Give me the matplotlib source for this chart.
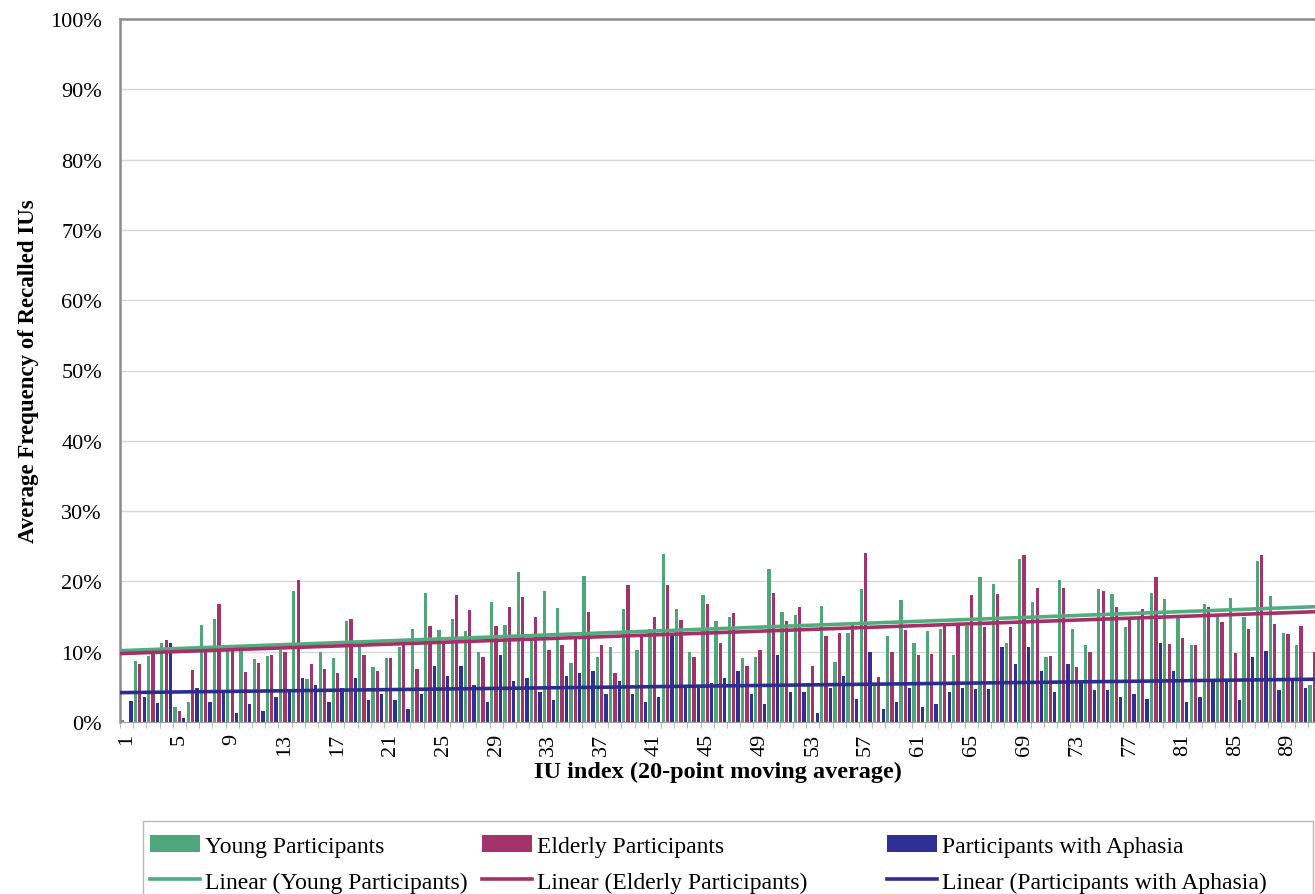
import numpy as np
import matplotlib
matplotlib.use('Agg')
import matplotlib.pyplot as plt
from matplotlib.patches import Rectangle, Patch
from matplotlib.lines import Line2D
from matplotlib.ticker import PercentFormatter

plt.rcParams['font.family'] = ['Liberation Serif', 'DejaVu Serif']

# IU index (20-point moving average), values in percent
iu_index = np.arange(1, 92)

young = [0.3, 8.7, 9.4, 11.2, 2.1, 2.8, 13.8, 14.6, 10.1, 10.1,
         9.0, 9.4, 10.2, 18.7, 6.1, 10.0, 9.1, 14.3, 10.6, 7.8,
         9.1, 10.6, 13.3, 18.3, 13.1, 14.6, 13.0, 9.9, 17.1, 13.8,
         21.3, 11.6, 18.6, 16.2, 8.4, 20.7, 9.3, 10.6, 16.1, 10.3,
         13.2, 23.9, 16.1, 9.9, 18.0, 14.4, 14.9, 9.1, 9.3, 21.8,
         15.6, 15.2, 5.6, 16.5, 8.6, 12.6, 18.9, 5.2, 12.2, 17.3,
         11.2, 13.0, 13.2, 9.5, 13.6, 20.6, 19.6, 11.2, 23.2, 17.1,
         9.3, 20.2, 13.3, 10.9, 18.9, 18.2, 13.5, 14.6, 18.4, 17.5,
         14.9, 10.9, 16.8, 14.9, 17.7, 14.9, 22.9, 17.9, 12.7, 10.9, 5.2]

elderly = [0.0, 8.2, 9.9, 11.6, 1.6, 7.4, 10.2, 16.8, 10.1, 7.1,
           8.4, 9.5, 9.9, 20.2, 8.2, 7.5, 7.0, 14.7, 9.5, 7.3,
           9.1, 11.1, 7.5, 13.6, 11.3, 18.0, 16.0, 9.3, 13.7, 16.4,
           17.8, 15.0, 10.3, 11.0, 11.8, 15.7, 10.9, 6.9, 19.5, 12.3,
           14.9, 19.5, 14.5, 9.3, 16.8, 11.2, 15.5, 8.0, 10.2, 18.4,
           14.3, 16.3, 8.0, 12.3, 12.7, 13.8, 24.1, 6.4, 9.9, 13.1,
           9.6, 9.7, 13.8, 13.8, 18.0, 13.5, 18.2, 13.5, 23.7, 19.1,
           9.4, 19.0, 7.8, 9.9, 18.6, 16.4, 14.6, 16.1, 20.6, 11.1,
           11.9, 10.9, 16.3, 14.2, 9.8, 13.2, 23.7, 13.9, 12.5, 13.6, 9.9]

aphasia = [3.0, 3.6, 2.7, 11.2, 0.6, 4.9, 2.9, 4.2, 1.3, 2.6,
           1.6, 3.6, 4.4, 6.2, 5.2, 2.9, 4.8, 6.2, 3.2, 4.0,
           3.2, 1.8, 4.0, 7.9, 6.6, 7.9, 5.3, 2.9, 9.6, 5.9,
           6.2, 4.2, 3.2, 6.6, 6.9, 7.2, 4.0, 5.9, 4.0, 2.9,
           3.6, 12.2, 4.9, 4.9, 5.5, 6.2, 7.3, 4.0, 2.6, 9.6,
           4.2, 4.2, 1.3, 4.9, 6.6, 3.3, 9.9, 1.9, 2.9, 4.9,
           2.2, 2.6, 4.3, 4.9, 4.7, 4.7, 10.6, 8.2, 10.6, 7.3,
           4.2, 8.2, 5.6, 4.6, 4.6, 3.6, 4.0, 3.3, 11.2, 7.2,
           2.9, 3.6, 5.9, 5.9, 3.2, 9.2, 10.1, 4.5, 5.9, 4.9, 4.5]

series_names = ['Young Participants', 'Elderly Participants', 'Participants with Aphasia']
bar_colors = ['#4ea67a', '#a3336a', '#2f2f94']
line_colors = ['#52ad7e', '#a52f68', '#2d2d8e']

fig = plt.figure(figsize=(13.15, 8.95), dpi=100)
ax = fig.add_axes([120 / 1315, 172 / 895, 1 - 120 / 1315, 703 / 895])

# grouped thin bars
offsets = [-0.33, 0.0, 0.33]
xlim = (0.5, 91.05)
for data, off, col in zip([young, elderly, aphasia], offsets, bar_colors):
    ax.bar(iu_index + off, data, width=0.25, color=col, linewidth=0, zorder=2)

# linear trend lines
x_fit = np.array(xlim)
for data, col in zip([young, elderly, aphasia], line_colors):
    k, b = np.polyfit(iu_index, data, 1)
    ax.plot(x_fit, k * x_fit + b, color=col, lw=2.6, zorder=3, solid_capstyle='butt')

ax.set_xlim(*xlim)
ax.set_ylim(0, 100)
ax.set_yticks(np.arange(0, 101, 10))
ax.yaxis.set_major_formatter(PercentFormatter(decimals=0))
ax.yaxis.grid(True, color='#d8d8d8', lw=1)
ax.set_axisbelow(True)

ax.set_xticks(np.arange(1, 91, 4))
ax.set_xticks(np.arange(0.5, 91, 1), minor=True)
ax.tick_params(axis='x', which='major', length=0, labelrotation=90, labelsize=16, pad=8)
ax.tick_params(axis='x', which='minor', length=4, color='#b0b0b0', direction='out')
ax.tick_params(axis='y', length=0, labelsize=16, pad=13)

for s in ['left', 'top']:
    ax.spines[s].set_color('#8c8c8c')
    ax.spines[s].set_linewidth(1.8)
ax.spines['bottom'].set_color('#a0a0a0')
ax.spines['right'].set_visible(False)

ax.set_ylabel('Average Frequency of Recalled IUs', fontsize=16.5, fontweight='bold', labelpad=8)
ax.set_xlabel('IU index (20-point moving average)', fontsize=17.5, fontweight='bold', labelpad=4)

# legend: one frame, three columns
fig.patches.append(Rectangle((143 / 1315, -0.02), 1170 / 1315, (895 - 822) / 895 + 0.02,
                             transform=fig.transFigure, fill=False, edgecolor='#b8b8b8', lw=1))
col_x = [150, 482, 887]
for name, bc, lc, x0 in zip(series_names, bar_colors, line_colors, col_x):
    handles = [Patch(facecolor=bc, edgecolor='none', label=name),
               Line2D([], [], color=lc, lw=2.6, label='Linear (%s)' % name)]
    leg = fig.legend(handles=handles, loc='upper left', bbox_to_anchor=(x0 / 1315, 1 - 836 / 895),
                     frameon=False, fontsize=17, borderpad=0, borderaxespad=0,
                     handlelength=2.1, handletextpad=0.22, labelspacing=0.62)

fig.savefig('out.png', dpi=100)
